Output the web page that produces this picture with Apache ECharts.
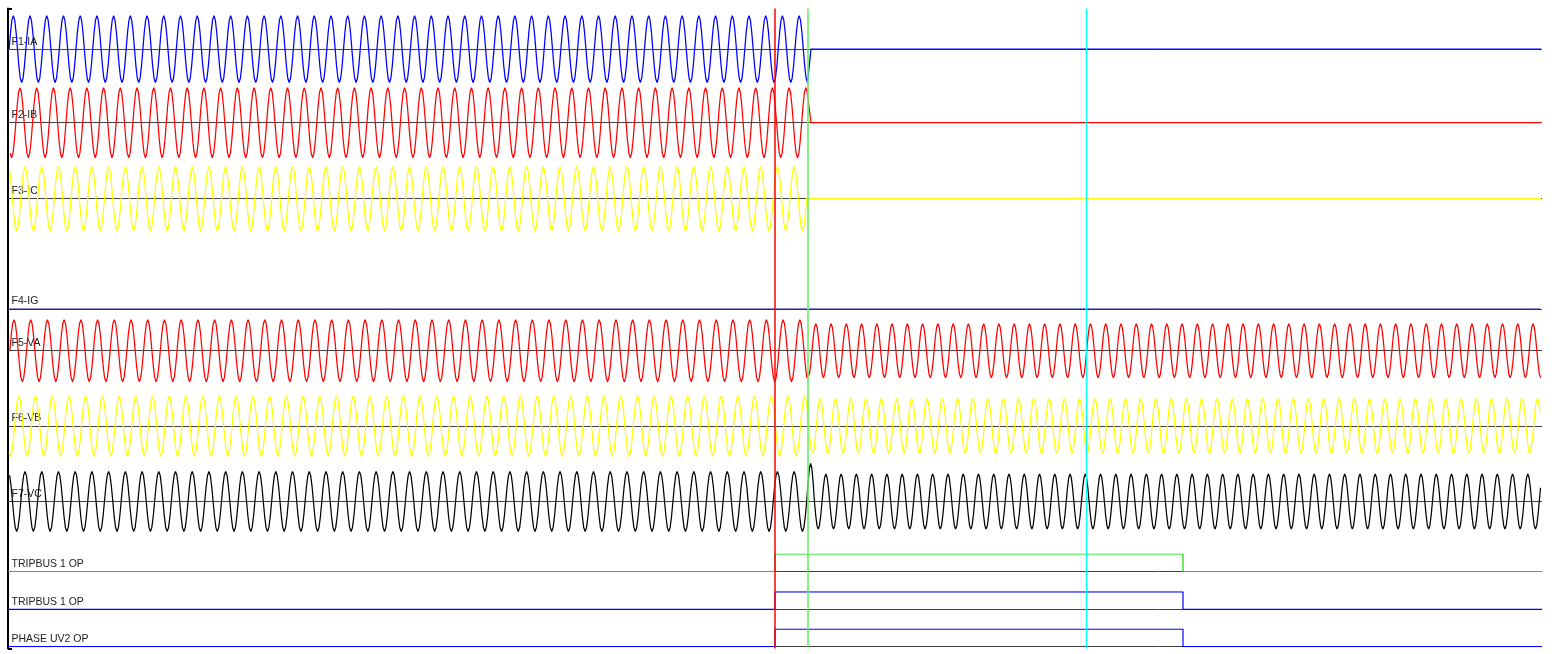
<!DOCTYPE html>
<html>
<head>
<meta charset="utf-8">
<script src="https://cdn.jsdelivr.net/npm/echarts@6/dist/echarts.min.js"></script>
<style>
html, body { margin: 0; padding: 0; background: #fff; }
#wave { width: 1556px; height: 654px; }
</style>
</head>
<body>
<div id="wave"></div>
<script>
// record time, ms from the left edge
var timeMax = 1534;
var faultTime = 800;      // green cursor, record rate changes here
var periodPre = 16.72;    // apparent cycle length before
var periodPost = 15.26;   // and after

// analog channels
var analogNames = ['F1-IA', 'F2-IB', 'F3-IC', 'F4-IG', 'F5-VA', 'F6-VB', 'F7-VC'];
var firstPeak = [5.3, 12, 17, 0, 6, 10.8, 0.3];   // time of first positive peak
var ampPre = [68, 70, 64, 0, 62, 60, 60];
var ampPost = [0, 0, 0, 0, 54, 55, 55];
var currentStop = [799.5, 803];                  // currents drop out between these
var vcSurge = [801.5, 76];                       // F7-VC overshoot at the green cursor

// one cycle, starting at the positive peak
var cycleShape = [1, 0.87, 0.5, 0, -0.5, -0.87, -1, -0.87, -0.5, 0, 0.5, 0.87];

// digital channels
var digitalNames = ['TRIPBUS 1 OP', 'TRIPBUS 1 OP', 'PHASE UV2 OP'];
var digitalTimes = [0, 767, 1175, 1534];
var digitalStates = [
    [0, 1, 0, 0],
    [0, 1, 0, 0],
    [0, 1, 0, 0]
];

// cursors
var cursorTimes = [767, 800, 1078];

// layout / style
var analogBase = [48.3, 122.7, 198.7, 309, 350.7, 426, 501.5];
var digitalBase = [571.5, 609.3, 646.7];
var analogColors = ['#0000ff', '#ff0000', '#ffff00', '#1c1ca6', '#ff0000', '#ffff00', '#000000'];
var digitalColors = ['#00e000', '#0000ff', '#0000ff'];
var cursorColors = ['#ff0000', '#66ee66', '#00ffff'];
var cursorWidths = [1.5, 1.6, 1.3];

function timeOf(u, p0) {
    var t = p0 + u * periodPre;
    if (t <= faultTime) return t;
    var uF = (faultTime - p0) / periodPre;
    return faultTime + (u - uF) * periodPost;
}

function buildWave(ch) {
    var pts = [];
    var n = cycleShape.length;
    var p0 = firstPeak[ch];
    var i = Math.floor(-p0 / periodPre * n) - 1;
    for (; ; i++) {
        var t = timeOf(i / n, p0);
        if (t < 1) continue;
        if (ch < 3 && t > currentStop[0]) {
            pts.push([currentStop[1], 0]);
            pts.push([timeMax - 1, 0]);
            break;
        }
        if (t > timeMax - 1) break;
        var amp = t < faultTime ? ampPre[ch] : ampPost[ch];
        if (ch === 6 && Math.abs(t - vcSurge[0]) < 4) amp = vcSurge[1];
        pts.push([+t.toFixed(2), +(amp * cycleShape[((i % n) + n) % n]).toFixed(2)]);
    }
    return pts;
}

function buildSteps(k) {
    var pts = [];
    for (var i = 0; i < digitalTimes.length; i++) {
        pts.push([digitalTimes[i], digitalStates[k][i]]);
    }
    return pts;
}

var grids = [], xAxes = [], yAxes = [], series = [];

function addGrid(top, height, ymin, ymax) {
    grids.push({ left: 8, width: timeMax, top: top, height: height });
    var idx = grids.length - 1;
    xAxes.push({ gridIndex: idx, type: 'value', min: 0, max: timeMax, show: false });
    yAxes.push({ gridIndex: idx, type: 'value', min: ymin, max: ymax, show: false });
    return idx;
}

function addBaseline(idx, name) {
    series.push({
        type: 'line', xAxisIndex: idx, yAxisIndex: idx, data: [], z: 1,
        markLine: {
            silent: true, symbol: 'none', animation: false, z: 1,
            lineStyle: { color: '#404040', width: 1, type: 'solid' },
            label: {
                show: true, position: 'insideStartTop', formatter: name,
                color: '#222', fontFamily: 'Liberation Sans, Arial', fontSize: 10.5,
                distance: [3.5, 2]
            },
            data: [{ yAxis: 0 }]
        }
    });
}

analogNames.forEach(function (name, ch) {
    var idx = addGrid(analogBase[ch] - 50, 100, -100, 100);
    addBaseline(idx, name);
    series.push({
        type: 'line', xAxisIndex: idx, yAxisIndex: idx, z: 3,
        showSymbol: false, symbol: 'none',
        lineStyle: { color: analogColors[ch], width: 1.25 },
        data: buildWave(ch)
    });
});

digitalNames.forEach(function (name, k) {
    var idx = addGrid(digitalBase[k] - 17.5, 17.5, 0, 1);
    addBaseline(idx, name);
    series.push({
        type: 'line', xAxisIndex: idx, yAxisIndex: idx, z: 3, step: 'end',
        showSymbol: false, symbol: 'none',
        lineStyle: { color: digitalColors[k], width: 1.2 },
        data: buildSteps(k)
    });
});

// frame with the left axis and the cursors
var frame = grids.length;
grids.push({ left: 8, width: timeMax, top: 8.5, height: 640 });
xAxes.push({ gridIndex: frame, type: 'value', min: 0, max: timeMax, show: false });
yAxes.push({
    gridIndex: frame, type: 'value', min: 0, max: 1, interval: 1,
    axisLine: { show: true, lineStyle: { color: '#000', width: 2 } },
    axisTick: { show: true, inside: true, length: 4, lineStyle: { color: '#000', width: 2 } },
    axisLabel: { show: false }, splitLine: { show: false }
});
cursorTimes.forEach(function (t, i) {
    series.push({
        type: 'line', xAxisIndex: frame, yAxisIndex: frame, data: [], z: 10,
        markLine: {
            silent: true, symbol: 'none', animation: false, label: { show: false }, z: 10,
            lineStyle: { color: cursorColors[i], width: cursorWidths[i], type: 'solid' },
            data: [{ xAxis: t }]
        }
    });
});

var chart = echarts.init(document.getElementById('wave'));
chart.setOption({
    animation: false,
    backgroundColor: '#fff',
    grid: grids,
    xAxis: xAxes,
    yAxis: yAxes,
    series: series
});
</script>
</body>
</html>
